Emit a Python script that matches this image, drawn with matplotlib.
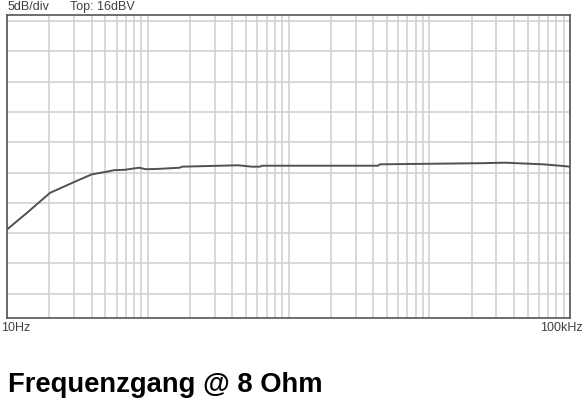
import numpy as np
import matplotlib
matplotlib.use("Agg")
import matplotlib.pyplot as plt
from matplotlib.ticker import LogLocator, MultipleLocator, NullFormatter

freq_hz = [10, 14.1, 20.2, 30.4, 40, 50, 58, 68, 87, 97, 118, 169, 175,
           438, 550, 627, 648, 4320, 4470, 24100, 34500, 64300, 84900, 100000]
level_dbv = [-19.4, -16.5, -13.35, -11.5, -10.3, -9.9, -9.6, -9.55, -9.2,
             -9.45, -9.4, -9.2, -9.03, -8.8, -9.03, -9.03, -8.87, -8.87, -8.64,
             -8.45, -8.37, -8.64, -8.87, -9.03]

top_dbv = 16
db_per_div = 5
n_div = 10

W, H = 584, 400
fig = plt.figure(figsize=(W / 100, H / 100), dpi=100)
ax = fig.add_axes([7 / W, (H - 318) / H, (570 - 7) / W, (318 - 15) / H])

ax.plot(freq_hz, level_dbv, color="#505050", lw=1.4)

ax.set_xscale("log")
ax.set_xlim(10, 100000)
ax.set_ylim(top_dbv - db_per_div * n_div, top_dbv)
ax.xaxis.set_major_locator(LogLocator(base=10, numticks=10))
ax.xaxis.set_minor_locator(LogLocator(base=10, subs=np.arange(2, 10), numticks=50))
ax.yaxis.set_major_locator(MultipleLocator(db_per_div))
ax.xaxis.set_major_formatter(NullFormatter())
ax.xaxis.set_minor_formatter(NullFormatter())
ax.yaxis.set_major_formatter(NullFormatter())
ax.tick_params(which="both", length=0)
ax.grid(which="both", color="#d2d2d2", lw=1.2)
ax.set_axisbelow(True)
for s in ax.spines.values():
    s.set_color("#555555")
    s.set_linewidth(1.2)

small = dict(fontsize=9, color="#404040", family="Liberation Sans")
fig.text(8 / W, 1 - 1 / H, "5dB/div", va="top", ha="left", **small)
fig.text(70 / W, 1 - 1 / H, "Top: 16dBV", va="top", ha="left", **small)
fig.text(1 / W, 1 - 322 / H, "10Hz", va="top", ha="left", **small)
fig.text(583 / W, 1 - 322 / H, "100kHz", va="top", ha="right", **small)

fig.text(8 / W, 1 - 392 / H, "Frequenzgang @ 8 Ohm", va="baseline", ha="left",
         fontsize=19.7, fontweight="bold", family="Liberation Sans", color="black")

fig.savefig("out.png", dpi=100)
